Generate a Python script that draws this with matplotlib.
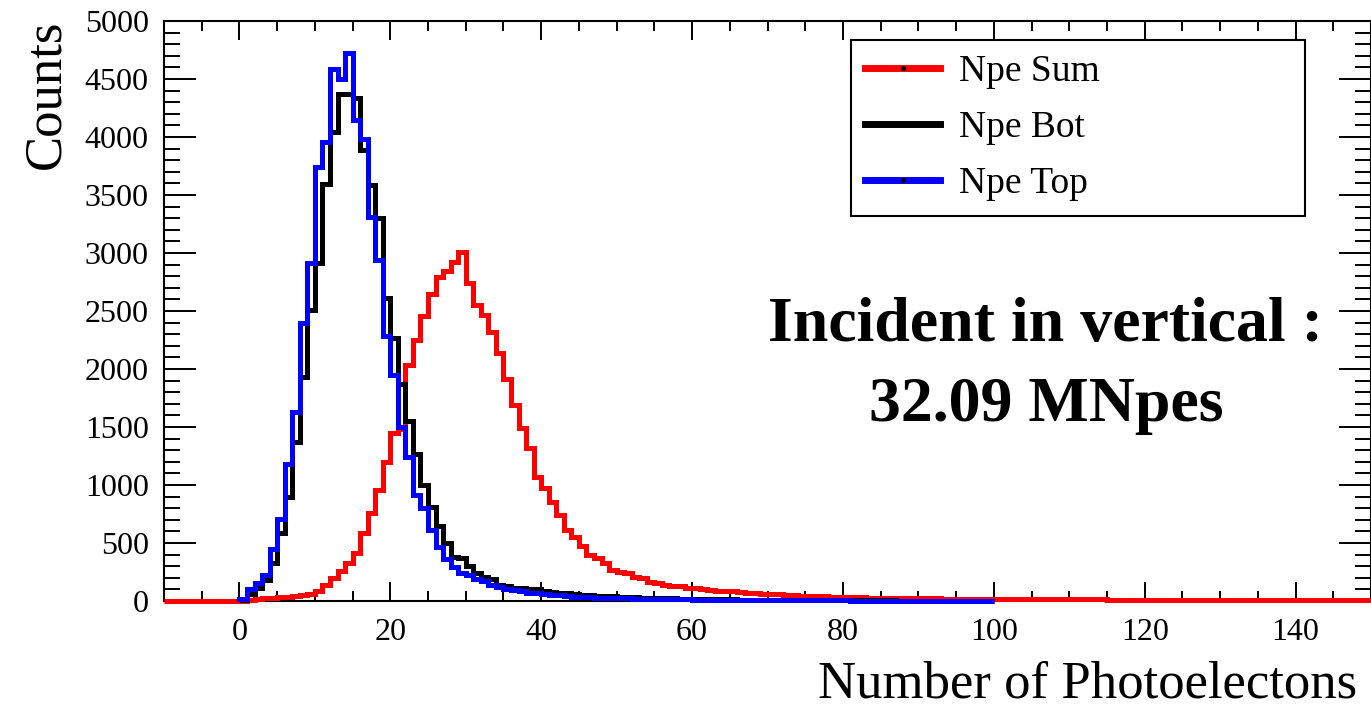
import numpy as np
import matplotlib
matplotlib.use("Agg")
import matplotlib.pyplot as plt
from matplotlib.lines import Line2D
from matplotlib.ticker import MultipleLocator

# histogram contents, bin width 1
red_start = -10
red_counts = [0, 0, 0, 0, 0, 0, 0, 0, 0, 0,
              3, 8, 15, 22, 28, 33, 38, 45, 52, 62,
              90, 135, 195, 255, 325, 411, 583, 756, 957, 1201,
              1450, 1480, 2034, 2250, 2460, 2647, 2796, 2848, 2925, 3011,
              2739, 2552, 2466, 2322, 2135, 1915, 1690, 1489, 1316, 1072,
              971, 856, 741, 610, 555, 475, 395, 368, 325, 267,
              253, 240, 210, 195, 166, 152, 138, 130, 128, 110,
              108, 106, 95, 90, 88, 87, 74, 72, 66, 63,
              58, 57, 52, 50, 47, 45, 42, 41, 38, 36,
              35, 33, 31, 30, 29, 28, 27, 26, 25, 24,
              23, 22, 22, 21, 20, 20, 19, 19, 18, 18,
              17, 17, 16, 16, 16, 15, 15, 15, 14, 14,
              14, 13, 13, 13, 13, 12, 12, 12, 12, 11,
              11, 11, 11, 11, 10, 10, 10, 10, 10, 10,
              9, 9, 9, 9, 9, 9, 8, 8, 8, 8,
              8, 8, 8, 7, 7, 7, 7, 7, 7, 7]

bot_start = 0
bot_counts = [10, 60, 110, 180, 325, 583, 899, 1373, 1934, 2512,
              2911, 3595, 4046, 4370, 4370, 4340, 3885, 3586, 3302, 2610,
              2266, 1870, 1553, 1270, 1000, 810, 648, 497, 380, 375,
              300, 239, 205, 190, 140, 132, 112, 108, 105, 100,
              85, 80, 72, 65, 58, 52, 48, 45, 42, 39,
              36, 33, 31, 29, 27, 25, 23, 22, 20, 19,
              18, 17, 16, 15, 14, 13, 12, 12, 11, 10,
              10, 9, 9, 8, 8, 8, 7, 7, 7, 6,
              6, 6, 6, 5, 5, 5, 5, 4, 4, 4,
              4, 4, 3, 3, 3, 3, 3, 3, 2, 2]

top_start = 0
top_counts = [15, 101, 152, 224, 446, 704, 1178, 1632, 2399, 2917,
              3744, 3960, 4583, 4497, 4721, 4147, 3980, 3313, 2940, 2284,
              1948, 1500, 1244, 914, 805, 612, 462, 360, 290, 245,
              220, 190, 172, 135, 120, 100, 95, 88, 72, 66,
              60, 55, 50, 42, 38, 35, 32, 30, 28, 26,
              24, 23, 21, 20, 18, 17, 16, 15, 14, 13,
              12, 12, 11, 10, 10, 9, 9, 8, 8, 7,
              7, 7, 6, 6, 6, 6, 5, 5, 5, 5,
              5, 4, 4, 4, 4, 4, 4, 3, 3, 3,
              3, 3, 3, 3, 2, 2, 2, 2, 2, 2]

labels = ["Npe Sum", "Npe Bot", "Npe Top"]
colors = ["#ff0000", "#000000", "#0000ff"]
note = "Incident in vertical :\n32.09 MNpes"

plt.rcParams['font.family'] = ['Liberation Serif', 'DejaVu Serif']

W, H = 1371, 708
fig = plt.figure(figsize=(W / 100, H / 100), dpi=100)
ax = fig.add_axes([164 / W, 1 - 601 / H, 1207 / W, 580 / H])

lw = 3.6
for start, counts, c in [(red_start, red_counts, colors[0]),
                         (bot_start, bot_counts, colors[1]),
                         (top_start, top_counts, colors[2])]:
    edges = np.arange(start, start + len(counts) + 1)
    ax.stairs(counts, edges, color=c, lw=lw, baseline=0, zorder=3, clip_on=False)

ax.set_xlim(-10, 150)
ax.set_ylim(0, 5000)
ax.set_xticks(np.arange(0, 141, 20))
ax.xaxis.set_minor_locator(MultipleLocator(5))
ax.yaxis.set_major_locator(MultipleLocator(500))
ax.yaxis.set_minor_locator(MultipleLocator(100))
ax.tick_params(which='both', direction='in', top=True, right=True,
               width=1.4, labelsize=23)
ax.tick_params(axis='x', which='major', length=14, pad=12)
ax.tick_params(axis='x', which='minor', length=7)
ax.tick_params(axis='y', which='major', length=23, pad=11)
ax.tick_params(axis='y', which='minor', length=11.5)
for s in ax.spines.values():
    s.set_linewidth(1.5)

fig.text(46 / W, 1 - 20 / H, "Counts", rotation=90, ha='center', va='top', fontsize=38)
fig.text(1357 / W, 1 - 685 / H, "Number of Photoelectons", ha='right', va='center', fontsize=38)
fig.text(1046 / W, 1 - 366 / H, note, ha='center', va='center', multialignment='center',
         fontsize=46, fontweight='bold', linespacing=1.5)

handles = [Line2D([], [], color=c, lw=5, marker='o', markersize=2.5,
                  markerfacecolor='black', markeredgecolor='black') for c in colors]
handles[1].set_marker('')
leg = fig.legend(handles, labels, loc='upper left',
                 bbox_to_anchor=(851 / W, 1 - 211 / H, 454 / W, 171 / H),
                 mode='expand', borderaxespad=0, fontsize=27, numpoints=1,
                 handlelength=2.0, handletextpad=0.5, borderpad=0.38,
                 labelspacing=0.58, fancybox=False, framealpha=1)
leg.get_frame().set_edgecolor('black')
leg.get_frame().set_linewidth(1.5)

fig.savefig("out.png", dpi=100)
